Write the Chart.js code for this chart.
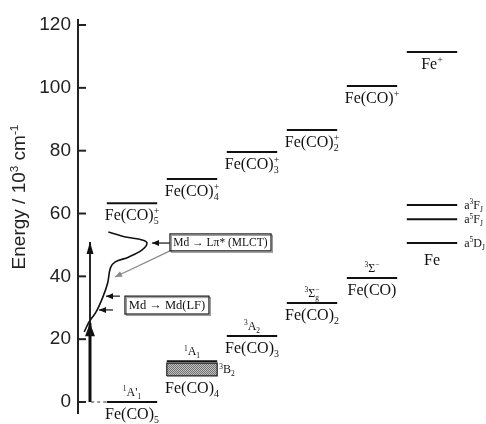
<!DOCTYPE html>
<html>
<head>
<meta charset="utf-8">
<script src="https://cdn.jsdelivr.net/npm/chart.js@4.4.1/dist/chart.umd.min.js"></script>
<style>
  body { margin: 0; background: #fff; }
  #wrap { width: 486px; height: 424px; }
</style>
</head>
<body>
<div id="wrap"><canvas id="myChart" width="486" height="424"></canvas></div>
<script>
// energies in 10^3 cm-1
const yTicks = [0, 20, 40, 60, 80, 100, 120];

// neutral fragments, one column each
const neutralLabel = ["Fe(CO)_{5}", "Fe(CO)_{4}", "Fe(CO)_{3}", "Fe(CO)_{2}", "Fe(CO)"];
const neutralState = ["^{1}A'_{1}", "^{1}A_{1}", "^{3}A_{2}", "^{3}Σ_{g}^{−}", "^{3}Σ^{−}"];
const neutralEnergy = [0, 13.0, 21.0, 31.5, 39.5];
const b2Range = [8.3, 12.4]; // 3B2 band of Fe(CO)4

// Fe atom terms
const feTerms = ["a^{5}D_{J}", "a^{5}F_{J}", "a^{3}F_{J}"];
const feTermEnergy = [50.6, 58.2, 62.7];

// cations
const cationLabel = ["Fe(CO)_{5}^{+}", "Fe(CO)_{4}^{+}", "Fe(CO)_{3}^{+}", "Fe(CO)_{2}^{+}", "Fe(CO)^{+}", "Fe^{+}"];
const cationEnergy = [63.3, 71.0, 79.6, 86.6, 100.6, 111.4];

// Fe(CO)5 absorption spectrum (sideways), intensity normalised to peak
const specEnergy = [22.3, 25.5, 28.6, 33.4, 37.9, 42.7, 44.6, 46.1, 48.4, 50.6, 51.6, 52.5, 54.1];
const specIntensity = [0.09, 0.16, 0.26, 0.36, 0.43, 0.47, 0.54, 0.73, 0.93, 1.0, 0.93, 0.69, 0.44];

// excitation energies and band positions pointed at
const pumpEnergy = [50.9, 25.1];
const bandEnergy = [50.6, 39.8, 33.7, 29.3];

const HW = 0.42; // half width of a level bar (column units)
const SERIF = "'Liberation Serif', 'Times New Roman', serif";
const SANS = "'Liberation Sans', Arial, sans-serif";

// dotted grey fill for the 3B2 box
const tile = document.createElement("canvas");
tile.width = 2; tile.height = 2;
const tctx = tile.getContext("2d");
tctx.fillStyle = "#c4c4c4"; tctx.fillRect(0, 0, 2, 2);
tctx.fillStyle = "#6e6e6e"; tctx.fillRect(0, 0, 1, 1); tctx.fillRect(1, 1, 1, 1);
const ctx = document.getElementById("myChart").getContext("2d");
const dots = ctx.createPattern(tile, "repeat");

const datasets = [];
function bar(col, e, w) {
  datasets.push({
    data: [{ x: col - HW, y: e }, { x: col + HW, y: e }],
    borderColor: "#111", borderWidth: w || 2, pointRadius: 0,
  });
}
neutralEnergy.forEach((e, i) => bar(i, e));
cationEnergy.forEach((e, i) => bar(i, e));
feTermEnergy.forEach((e) => bar(5, e));

// 3B2 box
datasets.push({
  data: [
    { x: 1 - HW, y: b2Range[0] }, { x: 1 + HW, y: b2Range[0] },
    { x: 1 + HW, y: b2Range[1] }, { x: 1 - HW, y: b2Range[1] },
    { x: 1 - HW, y: b2Range[0] },
  ],
  borderColor: "#222", borderWidth: 1.2, pointRadius: 0,
  fill: "shape", backgroundColor: dots,
});

// spectrum
datasets.push({
  xAxisID: "xs",
  data: specEnergy.map((e, i) => ({ x: specIntensity[i], y: e })),
  borderColor: "#111", borderWidth: 1.6, pointRadius: 0, tension: 0.35,
});

// dashed link from axis to ground state
datasets.push({
  data: [{ x: -0.68, y: 0 }, { x: -HW, y: 0 }],
  borderColor: "#333", borderWidth: 1, borderDash: [3, 3], pointRadius: 0,
});

// pump arrows
datasets.push({
  data: [{ x: -0.7, y: 0 }, { x: -0.7, y: pumpEnergy[0] }],
  borderColor: "#111", borderWidth: 1.8, pointRadius: 0, arrow: { len: 12, half: 3.5 },
});
datasets.push({
  data: [{ x: -0.7, y: 0 }, { x: -0.7, y: pumpEnergy[1] }],
  borderColor: "#111", borderWidth: 3, pointRadius: 0, arrow: { len: 13, half: 5 },
});

// arrows pointing at the bands
const bandArrows = [
  { from: [0.633, bandEnergy[0]], to: [0.333, bandEnergy[0]], color: "#111" },
  { from: [0.633, 48.1], to: [-0.283, bandEnergy[1]], color: "#8a8a8a" },
  { from: [-0.2, bandEnergy[2]], to: [-0.433, bandEnergy[2]], color: "#111" },
  { from: [-0.317, bandEnergy[3]], to: [-0.55, bandEnergy[3]], color: "#111" },
];
bandArrows.forEach((a) => {
  datasets.push({
    data: [{ x: a.from[0], y: a.from[1] }, { x: a.to[0], y: a.to[1] }],
    borderColor: a.color, borderWidth: 1.2, pointRadius: 0, arrow: { len: 7, half: 3 },
  });
});

// boxes with band assignments (column units / energy)
const boxes = [
  { text: "Md → Lπ* (MLCT)", x0: 0.633, x1: 2.317, y0: 48.1, y1: 53.5 },
  { text: "Md → Md(LF)", x0: -0.117, x1: 1.283, y0: 28.0, y1: 33.7 },
];

// --- rich text: ^{sup} and _{sub}, a sup right after a sub is stacked
function parseRich(str) {
  const segs = [];
  const re = /([_^])\{([^}]*)\}|([^_^]+)/g;
  let m;
  while ((m = re.exec(str))) {
    if (m[3]) segs.push({ t: m[3], k: "n" });
    else segs.push({ t: m[2], k: m[1] === "^" ? "sup" : "sub" });
  }
  return segs;
}
function drawRich(c, str, x, y, size, family, align, color) {
  const items = [];
  let pos = 0, prev = null;
  parseRich(str).forEach((s) => {
    const fs = s.k === "n" ? size : size * 0.62;
    c.font = fs + "px " + family;
    const w = c.measureText(s.t).width;
    const sx = prev && prev.k === "sub" && s.k === "sup" ? prev.x : pos;
    const dy = s.k === "sup" ? -size * 0.38 : s.k === "sub" ? size * 0.24 : 0;
    prev = { t: s.t, k: s.k, x: sx, fs: fs, dy: dy };
    items.push(prev);
    pos = Math.max(pos, sx + w);
  });
  const x0 = align === "center" ? x - pos / 2 : align === "right" ? x - pos : x;
  c.textAlign = "left";
  c.textBaseline = "alphabetic";
  c.fillStyle = color || "#111";
  items.forEach((it) => {
    c.font = it.fs + "px " + family;
    c.fillText(it.t, x0 + it.x, y + it.dy);
  });
}

const arrowHeads = {
  id: "arrowHeads",
  afterDatasetsDraw(chart) {
    const c = chart.ctx;
    chart.data.datasets.forEach((ds, i) => {
      if (!ds.arrow) return;
      const pts = chart.getDatasetMeta(i).data;
      const p1 = pts[pts.length - 2], p2 = pts[pts.length - 1];
      const ang = Math.atan2(p2.y - p1.y, p2.x - p1.x);
      const { len, half } = ds.arrow;
      c.save();
      c.translate(p2.x, p2.y);
      c.rotate(ang);
      c.beginPath();
      c.moveTo(0, 0);
      c.lineTo(-len, -half);
      c.lineTo(-len, half);
      c.closePath();
      c.fillStyle = ds.borderColor;
      c.fill();
      c.restore();
    });
  },
};

const labels = {
  id: "labels",
  afterDraw(chart) {
    const c = chart.ctx;
    const X = (v) => chart.scales.x.getPixelForValue(v);
    const Y = (v) => chart.scales.y.getPixelForValue(v);
    const area = chart.chartArea;
    c.save();

    // inward tick marks
    c.strokeStyle = "#222";
    c.lineWidth = 2;
    yTicks.forEach((v) => {
      c.beginPath();
      c.moveTo(area.left, Y(v));
      c.lineTo(area.left + 8, Y(v));
      c.stroke();
    });

    // axis title
    c.save();
    c.translate(25, 197);
    c.rotate(-Math.PI / 2);
    drawRich(c, "Energy / 10^{3} cm^{-1}", 0, 0, 19, SANS, "center", "#222");
    c.restore();

    // neutral levels
    neutralEnergy.forEach((e, i) => {
      const below = i === 1 ? Y(b2Range[0]) : Y(e);
      drawRich(c, neutralLabel[i], X(i), below + 17, 16, SERIF, "center");
      drawRich(c, neutralState[i], X(i), Y(e) - 6, 12, SERIF, "center");
    });
    drawRich(c, "^{3}B_{2}", X(1 + HW) + 2, Y((b2Range[0] + b2Range[1]) / 2) + 4, 12, SERIF, "left");

    // Fe atom
    drawRich(c, "Fe", X(5), Y(feTermEnergy[0]) + 22, 16, SERIF, "center");
    feTermEnergy.forEach((e, i) => {
      drawRich(c, feTerms[i], X(5 + HW) + 7, Y(e) + 4, 12, SERIF, "left");
    });

    // cations
    cationEnergy.forEach((e, i) => {
      drawRich(c, cationLabel[i], X(i), Y(e) + 17, 16, SERIF, "center");
    });

    // assignment boxes
    boxes.forEach((b) => {
      const l = X(b.x0), r = X(b.x1), t = Y(b.y1), btm = Y(b.y0);
      c.fillStyle = "#fff";
      c.fillRect(l, t, r - l, btm - t);
      c.strokeStyle = "#999";
      c.lineWidth = 1;
      c.strokeRect(l + 1.5, t + 1.5, r - l, btm - t);
      c.strokeStyle = "#222";
      c.lineWidth = 1.3;
      c.strokeRect(l, t, r - l, btm - t);
      let fs = 13;
      c.font = fs + "px " + SERIF;
      while (c.measureText(b.text).width > r - l - 6 && fs > 9) {
        fs -= 0.5;
        c.font = fs + "px " + SERIF;
      }
      drawRich(c, b.text, (l + r) / 2, (t + btm) / 2 + fs * 0.35, fs, SERIF, "center");
    });
    c.restore();
  },
};

new Chart(ctx, {
  type: "line",
  data: { datasets: datasets },
  options: {
    responsive: false,
    animation: false,
    devicePixelRatio: 1,
    layout: { padding: { top: 20, bottom: 11, left: 0, right: 0 } },
    plugins: { legend: { display: false }, tooltip: { enabled: false } },
    scales: {
      x: { type: "linear", min: -0.9, max: 5.9, display: false },
      xs: { type: "linear", min: 0, max: 408 / 69, display: false },
      y: {
        type: "linear",
        min: -3.5,
        max: 121.6,
        afterBuildTicks: (s) => { s.ticks = yTicks.map((v) => ({ value: v })); },
        afterFit: (s) => { s.width = 78; },
        grid: { display: true, drawOnChartArea: false, drawTicks: false },
        border: { display: true, color: "#222", width: 2 },
        ticks: { color: "#222", padding: 7, font: { family: SANS, size: 19, lineHeight: 0.2 } },
      },
    },
  },
  plugins: [arrowHeads, labels],
});
</script>
</body>
</html>
